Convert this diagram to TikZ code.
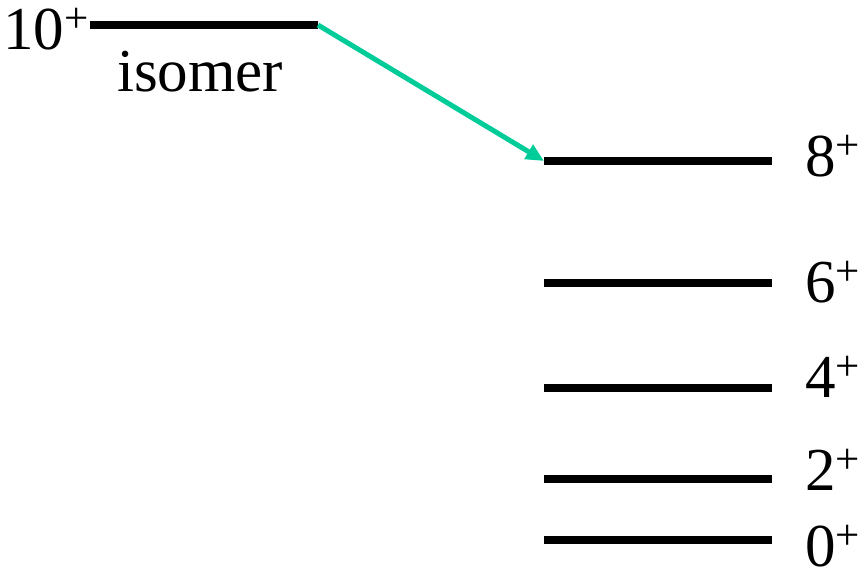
\documentclass[tikz,border=0pt]{standalone}
\usepackage{fontspec}
\setmainfont{Liberation Serif}
\usetikzlibrary{arrows.meta}
\definecolor{trans}{HTML}{00CC99}
\newcommand{\spin}[1]{#1\raisebox{17pt}{\fontsize{43}{43}\selectfont +}}
\tikzset{
  x=1pt, y=-1pt,
  level/.style={line width=8pt},
  spinlabel/.style={anchor=base west, inner sep=0pt, font=\fontsize{61}{61}\selectfont},
  transition/.style={draw=trans, line width=5pt, -{Triangle[length=18pt,width=16pt]}}
}
\begin{document}
\begin{tikzpicture}
\useasboundingbox (0,0) rectangle (860,573);
% isomer level
\coordinate (isoL) at (90,25);
\coordinate (isoR) at (318,25);
\draw[level] (isoL) -- (isoR);
\node[spinlabel] (l10) at (3,49) {\spin{10}};
\node[spinlabel] (iso) at (117,91) {isomer};
% ground-state band
\foreach \name/\y/\base/\j in {g8/161/176/8, g6/283/302/6, g4/388/397/4, g2/479/490/2, g0/540/566/0}{
  \coordinate (\name L) at (544,\y);
  \coordinate (\name R) at (772,\y);
  \draw[level] (\name L) -- (\name R);
  \node[spinlabel] (\name lab) at (805,\base) {\spin{\j}};
}
% isomeric decay
\draw[transition] (isoR) -- (g8L);
\end{tikzpicture}
\end{document}
